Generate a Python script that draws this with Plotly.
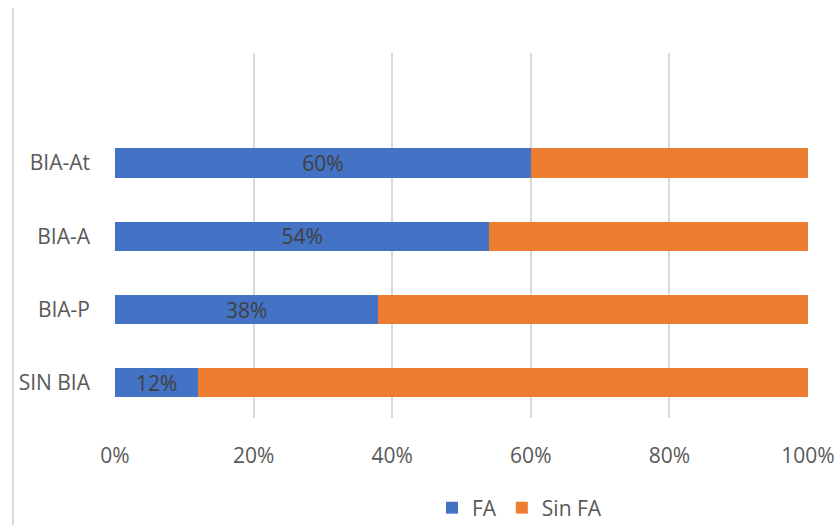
import plotly.graph_objects as go

# Categories (bottom to top) and the share of each group with / without FA
categories = ["SIN BIA", "BIA-P", "BIA-A", "BIA-At"]
fa_values = [12, 38, 54, 60]
sin_fa_values = [100 - v for v in fa_values]
x_ticks = [0, 20, 40, 60, 80, 100]
x_tick_labels = ["0%", "20%", "40%", "60%", "80%", "100%"]

BLUE = "#4472C4"
ORANGE = "#ED7D31"
FONT = "Open Sans"
SIZE = 21

fig = go.Figure()
fig.add_trace(go.Bar(
    y=categories, x=fa_values, name="FA", orientation="h",
    marker=dict(color=BLUE, line=dict(width=0)),
    text=[f"{v}%" for v in fa_values], textposition="inside",
    insidetextanchor="middle", constraintext="none",
    textfont=dict(family=FONT, size=SIZE, color="#404040"),
))
fig.add_trace(go.Bar(
    y=categories, x=sin_fa_values, name="Sin FA", orientation="h",
    marker=dict(color=ORANGE, line=dict(width=0)),
    hoverinfo="x+name",
))

fig.update_layout(
    barmode="stack",
    bargap=0.6,
    width=840, height=525,
    margin=dict(l=115, r=32, t=53, b=107, autoexpand=False),
    paper_bgcolor="white", plot_bgcolor="white",
    font=dict(family=FONT, size=SIZE, color="#595959"),
    uniformtext=dict(minsize=SIZE, mode="show"),
    xaxis=dict(
        range=[0, 100], tickvals=x_ticks, ticktext=x_tick_labels,
        showgrid=True, gridcolor="#d9d9d9", gridwidth=2,
        zeroline=False, showline=False, ticks="",
        ticklabelstandoff=23,
        tickfont=dict(family=FONT, size=SIZE, color="#595959"),
    ),
    yaxis=dict(
        range=[-0.48, 4.5], showgrid=False, zeroline=False, showline=False,
        ticks="", ticklabelstandoff=24,
        tickfont=dict(family=FONT, size=SIZE, color="#595959"),
    ),
    legend=dict(
        orientation="h", traceorder="normal",
        xref="container", yref="container",
        x=432 / 840, xanchor="left", y=17 / 525, yanchor="middle",
        font=dict(family=FONT, size=SIZE, color="#595959"),
        itemwidth=30,
    ),
    shapes=[dict(
        type="line", xref="paper", yref="paper",
        x0=-102 / 693, x1=-102 / 693, y0=-107 / 365, y1=(365 + 45) / 365,
        line=dict(color="#d9d9d9", width=2),
    )],
)

fig.write_html("out.html")
